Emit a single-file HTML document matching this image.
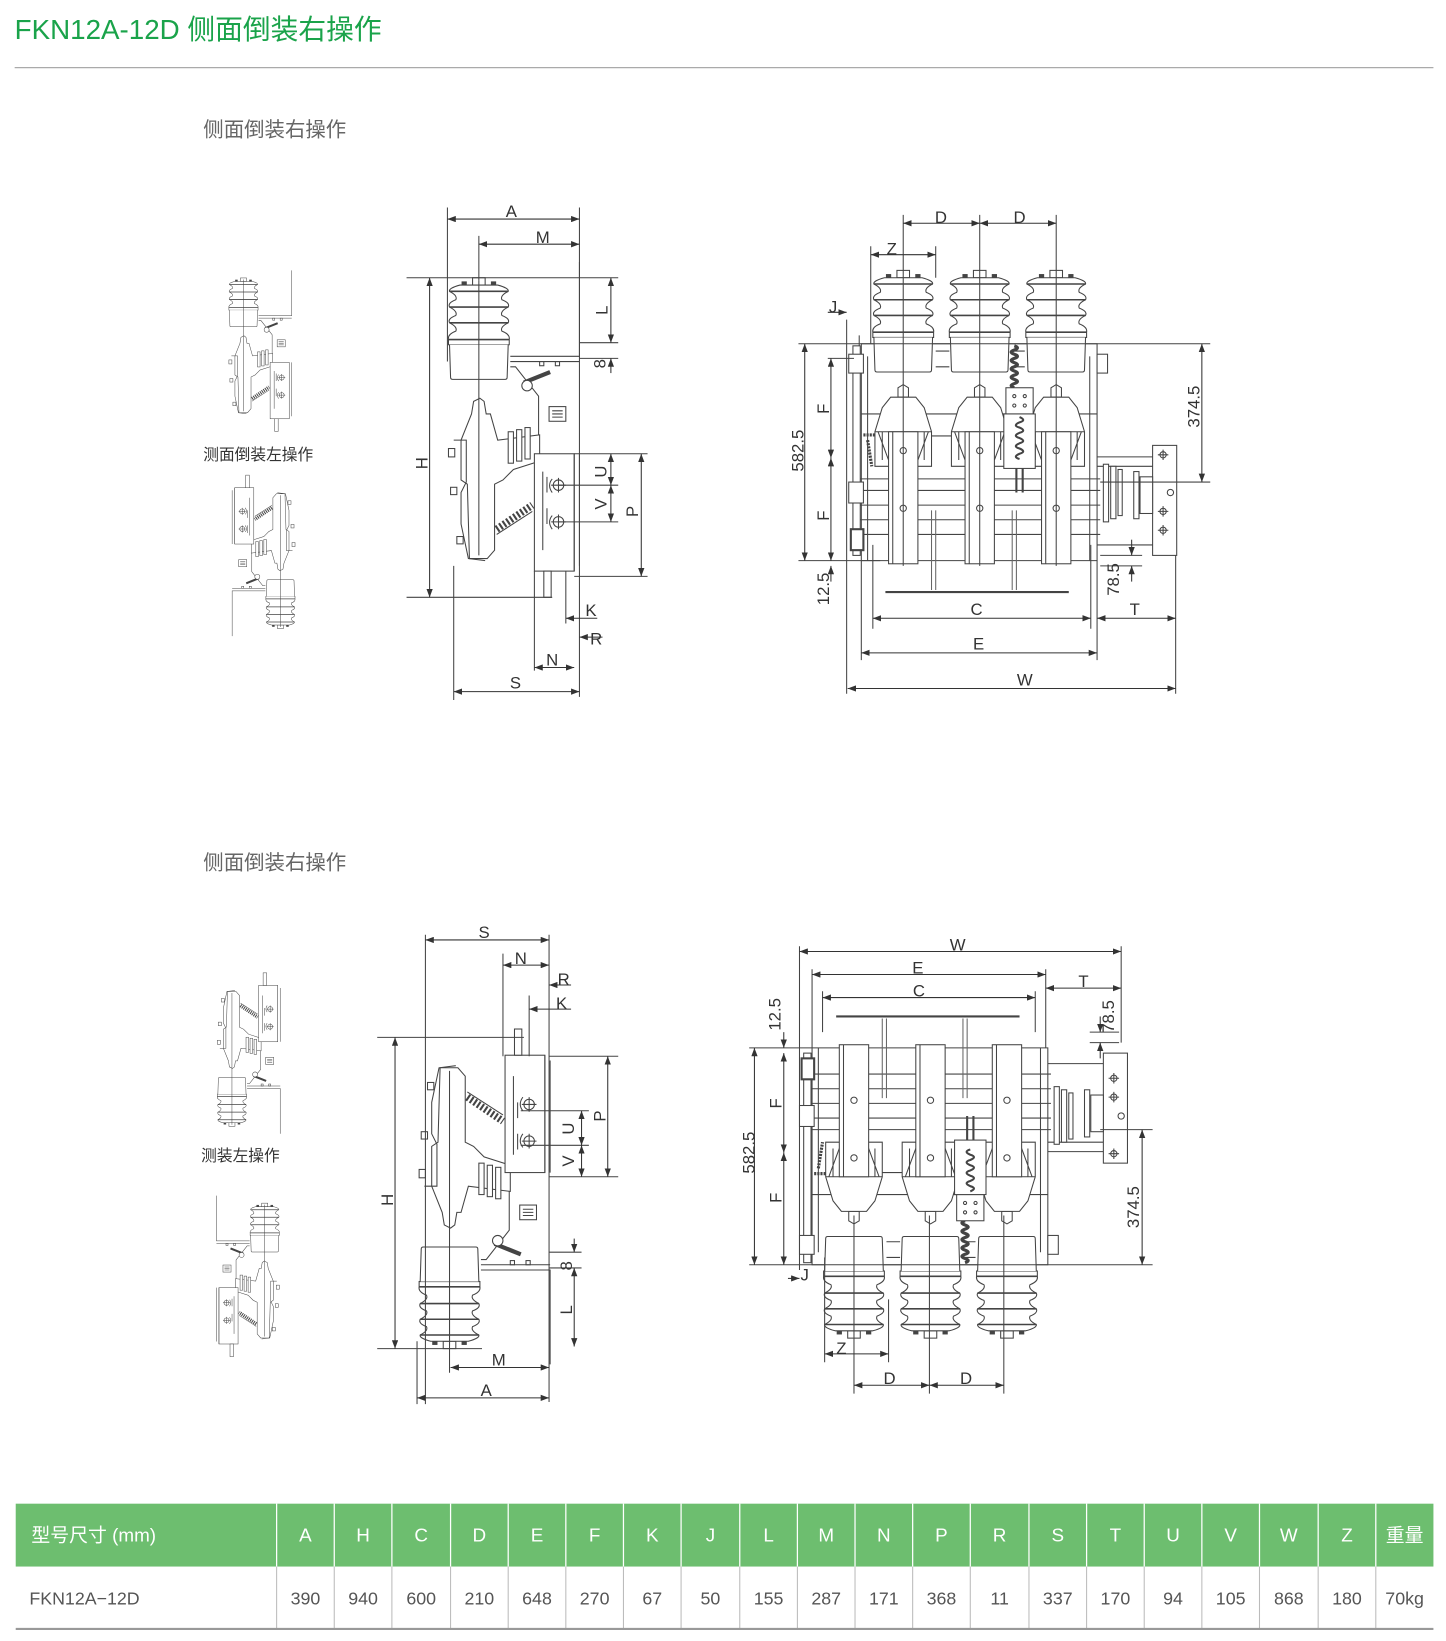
<!DOCTYPE html>
<html><head><meta charset="utf-8"><style>
html,body{margin:0;padding:0;background:#fff;}
body{width:1446px;height:1641px;overflow:hidden;}
svg{display:block}
.t{font-family:"Liberation Sans","Noto Sans CJK SC",sans-serif;}
</style></head><body>
<svg width="1446" height="1641" viewBox="0 0 1380 1566" xmlns="http://www.w3.org/2000/svg">
<defs>
<marker id="ar" viewBox="0 0 8 6" refX="8" refY="3" markerWidth="8" markerHeight="6" markerUnits="userSpaceOnUse" orient="auto-start-reverse"><path d="M0,0 L8,3 L0,6 z" fill="#333"/></marker>
<g id="ins">
<rect x="-6" y="-7" width="12" height="7" fill="#fff" stroke="#444"/>
<rect x="-16" y="-3" width="4" height="3" fill="#444"/><rect x="12" y="-3" width="4" height="3" fill="#444"/>
<path d="M-18,0 L18,0 Q29,3 28,6 Q20,10 22,14 Q30,17 28,21 Q20,25 22,29 Q30,32 28,36 Q20,40 22,44 Q30,47 29,52 L29,57 L-29,57 L-29,52 Q-30,47 -22,44 Q-20,40 -28,36 Q-30,32 -22,29 Q-20,25 -28,21 Q-30,17 -22,14 Q-20,10 -28,6 Q-29,3 -18,0 Z" fill="#fff" stroke="#444"/>
<path d="M-28,6 H28 M-28,21 H28 M-28,36 H28 M-29,52 H29" stroke="#444" stroke-width="1.5"/>
<path d="M-28,57 L-27,88 Q-27,90 -25,90 L25,90 Q27,90 27,88 L28,57" fill="#fff" stroke="#444"/>
</g>
<g id="ct" fill="#fff" stroke="#444">
<path d="M-5,12 L-5,3 L0,0 L5,3 L5,12 Z"/>
<path d="M-12,12 L12,12 L20,22 L27,45 L27,78 L-27,78 L-27,45 L-20,22 Z"/>
<path d="M-27,45 L27,45 M-24,45 L-14,72 M24,45 L14,72 M-20,45 L-20,72 M20,45 L20,72" fill="none"/>
<rect x="-14" y="45" width="28" height="126"/>
<circle cx="0" cy="63" r="3"/><circle cx="0" cy="118" r="3"/>
<line x1="-10" y1="45" x2="-10" y2="171"/>
</g>
<g id="side" fill="none" stroke="#444">
<use href="#ins" transform="translate(457,272)"/>
<path d="M487,340 H553 V250 M487,345 H553"/>
<path d="M487,350 L492,350 L514,378 L514,433"/>
<rect x="515" y="345" width="4" height="4"/><rect x="530" y="345" width="4" height="4"/>
<path d="M500,365 L525,355" stroke-width="4"/>
<circle cx="503" cy="368" r="5" fill="#fff"/>
<rect x="524" y="388" width="16" height="14" fill="#fff"/><path d="M527,392 H537 M527,395 H537 M527,398 H537"/>
<path d="M450,395 L452,383 L458,380 L462,383 L464,395 L468,395 L475,420 L515,415 L515,440 L490,448 L480,458 L472,462 L472,525 L465,533 L448,533 L446,462 L440,458 L440,420 Z" fill="#fff"/>
<rect x="485" y="412" width="5" height="30" fill="#fff"/><rect x="493" y="410" width="5" height="30" fill="#fff"/><rect x="501" y="408" width="5" height="30" fill="#fff"/>
<path d="M433,420 L445,420 L445,460 L440,470 L440,500 L447,533 L463,535"/>
<rect x="428" y="428" width="6" height="8"/><rect x="430" y="465" width="6" height="7"/><rect x="436" y="512" width="6" height="7"/>
<path d="M474,505 L508,482" stroke-width="7" stroke-dasharray="2 2"/>
<path d="M474,510 L508,488"/>
<rect x="510" y="433" width="38" height="112" fill="#fff"/>
<path d="M548,433 V545 M553,433 V540"/>
<path d="M518,450 V525 M522,455 V470 M522,485 V500"/>
<circle cx="533" cy="463" r="5"/><path d="M526,463 H540 M533,456 V470"/>
<circle cx="533" cy="498" r="5"/><path d="M526,498 H540 M533,491 V505"/>
<path d="M527,457 Q522,463 527,470 M527,492 Q522,498 527,505"/>
<rect x="519" y="545" width="7" height="25" fill="#fff"/>
<line x1="457" y1="268" x2="457" y2="530"/>
</g>
<g id="front" fill="none" stroke="#444">
<path d="M822,328 H1047 V535 H822 Z M828,340 V535 M1040,340 V535"/>
<path d="M815,457 H1050 M815,468 H1050 M815,482 H1050 M815,496 H1050 M815,510 H1050 M822,395 H1047 M840,416 H1030"/>
<path d="M893,335 H906 M965,335 H978 M893,350 H906 M965,350 H978"/>
<rect x="814" y="330" width="7" height="200" fill="#fff"/>
<rect x="810" y="338" width="14" height="18" fill="#fff"/><rect x="810" y="460" width="14" height="20" fill="#fff"/>
<rect x="812" y="505" width="12" height="20" fill="#fff" stroke-width="2"/>
<path d="M824,415 H838 M828,420 L832,445" stroke-width="3" stroke-dasharray="2 1"/>
<rect x="1047" y="338" width="10" height="18" fill="#fff"/>
<use href="#ins" transform="translate(862,265)"/>
<use href="#ins" transform="translate(935,265)"/>
<use href="#ins" transform="translate(1008,265)"/>
<use href="#ct" transform="translate(862,367)"/>
<use href="#ct" transform="translate(935,367)"/>
<use href="#ct" transform="translate(1008,367)"/>
<path d="M968,330 q6,2 0,4 q-6,2 0,4 q6,2 0,4 q-6,2 0,4 q6,2 0,4 q-6,2 0,4 q6,2 0,4 q-6,2 0,4 q6,2 0,4 q-6,2 0,4" stroke-width="3"/>
<rect x="960" y="370" width="26" height="25" fill="#fff"/>
<circle cx="968" cy="378" r="1.5"/><circle cx="978" cy="378" r="1.5"/><circle cx="968" cy="387" r="1.5"/><circle cx="978" cy="387" r="1.5"/>
<rect x="958" y="395" width="30" height="52" fill="#fff"/>
<path d="M973,398 q7,3 0,5 q-7,3 0,5 q7,3 0,5 q-7,3 0,5 q7,3 0,5 q-7,3 0,5 q7,3 0,5 q-7,3 0,5" stroke-width="2"/>
<path d="M970,447 V470 M976,447 V470" stroke-width="2"/>
<path d="M845,565 H1020" stroke-width="2"/>
<path d="M889,487 V563 M893,487 V563 M966,487 V563 M970,487 V563" stroke="#666"/>
<rect x="1100" y="425" width="23" height="105" fill="#fff"/>
<path d="M1047,436 H1100 M1047,445 H1100 M1047,520 H1100"/>
<rect x="1053" y="443" width="5" height="55" fill="#fff"/><rect x="1060" y="445" width="5" height="50" fill="#fff"/><rect x="1067" y="448" width="4" height="44" fill="#fff"/>
<rect x="1082" y="450" width="5" height="45" fill="#fff"/><rect x="1088" y="455" width="12" height="35" fill="#fff"/>
<circle cx="1110" cy="434" r="3"/><circle cx="1110" cy="488" r="3"/><circle cx="1110" cy="506" r="3"/><circle cx="1117" cy="470" r="3"/>
<path d="M1105,434 H1115 M1110,429 V439 M1105,488 H1115 M1110,483 V493 M1105,506 H1115 M1110,501 V511"/>
</g>
</defs>

<text class="t" x="14" y="37" font-size="26.5" fill="#1aa34a">FKN12A-12D 侧面倒装右操作</text>
<line x1="14" y1="64.5" x2="1368" y2="64.5" stroke="#aaa" stroke-width="1.2"/>
<text class="t" x="194" y="130" font-size="19.5" fill="#666">侧面倒装右操作</text>
<text class="t" x="194" y="830" font-size="19.5" fill="#666">侧面倒装右操作</text>
<text class="t" x="194" y="439" font-size="15" fill="#333">测面倒装左操作</text>
<text class="t" x="192" y="1108" font-size="15" fill="#333">测装左操作</text>

<use href="#side" transform="matrix(0.48 0 0 0.48 13 138)"/>
<use href="#side" transform="matrix(-0.48 0 0 -0.48 487 727)"/>
<use href="#side" transform="matrix(0.48 0 0 -0.48 2 1202)"/>
<use href="#side" transform="matrix(-0.48 0 0 0.48 472 1021)"/>

<use href="#side"/>
<use href="#side" transform="matrix(1 0 0 -1 -28 1552)"/>
<use href="#front"/>
<use href="#front" transform="matrix(1 0 0 -1 -47 1535)"/>

<g stroke="#444" stroke-width="1" fill="none">
<path d="M427,198 V345 M553,198 V665 M457,225 V268 M388,265 H590 M388,570 H527 M553,327 H590 M553,342 H590 M548,433 H618 M533,463 H590 M533,498 H590 M548,550 H618 M540,545 V595 M510,545 V640 M433,540 V668"/>
</g>
<g stroke="#333" stroke-width="1" marker-start="url(#ar)" marker-end="url(#ar)">
<line x1="427" y1="209" x2="553" y2="209"/>
<line x1="457" y1="233" x2="553" y2="233"/>
<line x1="410" y1="265" x2="410" y2="570"/>
<line x1="583" y1="265" x2="583" y2="327"/>
<line x1="583" y1="433" x2="583" y2="463"/>
<line x1="583" y1="463" x2="583" y2="498"/>
<line x1="612" y1="433" x2="612" y2="550"/>
<line x1="510" y1="637" x2="548" y2="637"/>
<line x1="433" y1="660" x2="553" y2="660"/>
</g>
<g stroke="#333" marker-end="url(#ar)">
<line x1="583" y1="356" x2="583" y2="342"/>
<line x1="570" y1="590" x2="540" y2="590"/>
<line x1="575" y1="608" x2="553" y2="608"/>
</g>
<g class="t" font-size="16" fill="#333" text-anchor="middle">
<text x="488" y="207">A</text><text x="518" y="232">M</text>
<text x="403" y="442" transform="rotate(-90 403 442)" dy="5">H</text>
<text x="575" y="296" transform="rotate(-90 575 296)" dy="5">L</text>
<text x="573" y="347" transform="rotate(-90 573 347)" dy="5">8</text>
<text x="574" y="450" transform="rotate(-90 574 450)" dy="5">U</text>
<text x="574" y="481" transform="rotate(-90 574 481)" dy="5">V</text>
<text x="604" y="488" transform="rotate(-90 604 488)" dy="5">P</text>
<text x="564" y="588">K</text><text x="569" y="615">R</text>
<text x="527" y="635">N</text><text x="492" y="657">S</text>
</g>

<g stroke="#444" fill="none">
<path d="M862,205 V540 M935,205 V540 M1008,205 V540 M831,235 V328 M893,235 V265 M808,305 V662 M820,320 V330 M762,328 H1155 M762,535 H840 M790,342 H815 M1050,460 H1155 M1050,530 H1090 M1050,540 H1090 M833,520 V600 M1041,520 V600 M822,535 V630 M1047,535 V630 M1122,530 V662"/>
</g>
<g stroke="#333" marker-start="url(#ar)" marker-end="url(#ar)">
<line x1="862" y1="213" x2="935" y2="213"/>
<line x1="935" y1="213" x2="1008" y2="213"/>
<line x1="831" y1="243" x2="893" y2="243"/>
<line x1="768" y1="328" x2="768" y2="535"/>
<line x1="793" y1="342" x2="793" y2="437"/>
<line x1="793" y1="437" x2="793" y2="535"/>
<line x1="1147" y1="328" x2="1147" y2="460"/>
<line x1="833" y1="590" x2="1041" y2="590"/>
<line x1="1047" y1="590" x2="1122" y2="590"/>
<line x1="822" y1="623" x2="1047" y2="623"/>
<line x1="809" y1="657" x2="1122" y2="657"/>
</g>
<g stroke="#333" marker-end="url(#ar)">
<line x1="790" y1="298" x2="808" y2="298"/>
<line x1="793" y1="555" x2="793" y2="540"/>
<line x1="1080" y1="515" x2="1080" y2="530"/>
<line x1="1080" y1="555" x2="1080" y2="540"/>
</g>
<g class="t" font-size="16" fill="#333" text-anchor="middle">
<text x="898" y="213">D</text><text x="973" y="213">D</text><text x="851" y="243">Z</text>
<text x="795" y="298">J</text>
<text x="762" y="430" transform="rotate(-90 762 430)" dy="5">582.5</text>
<text x="786" y="390" transform="rotate(-90 786 390)" dy="5">F</text>
<text x="786" y="492" transform="rotate(-90 786 492)" dy="5">F</text>
<text x="786" y="562" transform="rotate(-90 786 562)" dy="5">12.5</text>
<text x="1140" y="388" transform="rotate(-90 1140 388)" dy="5">374.5</text>
<text x="1063" y="553" transform="rotate(-90 1063 553)" dy="5">78.5</text>
<text x="932" y="587">C</text><text x="1083" y="587">T</text>
<text x="934" y="620">E</text><text x="978" y="654">W</text>
</g>

<g stroke="#444" fill="none">
<path d="M406,892 V1340 M524,892 V1338 M480,910 V1008 M505,950 V1008 M360,990 H500 M360,1287 H460 M524,1008 H590 M524,1123 H590 M497,1060 H562 M497,1093 H562 M524,1195 H555 M524,1210 H555 M429,1230 V1310 M398,1280 V1340"/>
</g>
<g stroke="#333" marker-start="url(#ar)" marker-end="url(#ar)">
<line x1="406" y1="897" x2="524" y2="897"/>
<line x1="480" y1="921" x2="524" y2="921"/>
<line x1="377" y1="990" x2="377" y2="1287"/>
<line x1="580" y1="1008" x2="580" y2="1123"/>
<line x1="555" y1="1060" x2="555" y2="1093"/>
<line x1="555" y1="1093" x2="555" y2="1123"/>
<line x1="548" y1="1210" x2="548" y2="1285"/>
<line x1="430" y1="1305" x2="524" y2="1305"/>
<line x1="398" y1="1334" x2="524" y2="1334"/>
</g>
<g stroke="#333" marker-end="url(#ar)">
<line x1="545" y1="940" x2="524" y2="940"/>
<line x1="545" y1="963" x2="505" y2="963"/>
<line x1="548" y1="1182" x2="548" y2="1195"/>
</g>
<g class="t" font-size="16" fill="#333" text-anchor="middle">
<text x="462" y="895">S</text><text x="497" y="920">N</text>
<text x="538" y="940">R</text><text x="536" y="963">K</text>
<text x="370" y="1145" transform="rotate(-90 370 1145)" dy="5">H</text>
<text x="573" y="1065" transform="rotate(-90 573 1065)" dy="5">P</text>
<text x="543" y="1077" transform="rotate(-90 543 1077)" dy="5">U</text>
<text x="543" y="1108" transform="rotate(-90 543 1108)" dy="5">V</text>
<text x="541" y="1208" transform="rotate(-90 541 1208)" dy="5">8</text>
<text x="541" y="1250" transform="rotate(-90 541 1250)" dy="5">L</text>
<text x="476" y="1303">M</text><text x="464" y="1332">A</text>
</g>

<g stroke="#444" fill="none">
<path d="M763,903 V1212 M1070,903 V995 M775,925 V1000 M998,925 V1000 M785,946 V985 M988,946 V985 M715,1000 H775 M715,1207 H1100 M1050,1078 H1100 M815,1160 V1330 M887,1160 V1330 M958,1160 V1330 M787,1200 V1300 M848,1240 V1300 M1040,985 H1068 M1040,995 H1068"/>
</g>
<g stroke="#333" marker-start="url(#ar)" marker-end="url(#ar)">
<line x1="763" y1="908" x2="1070" y2="908"/>
<line x1="775" y1="930" x2="998" y2="930"/>
<line x1="785" y1="952" x2="988" y2="952"/>
<line x1="998" y1="943" x2="1070" y2="943"/>
<line x1="720" y1="1000" x2="720" y2="1207"/>
<line x1="748" y1="1005" x2="748" y2="1100"/>
<line x1="748" y1="1100" x2="748" y2="1207"/>
<line x1="1090" y1="1078" x2="1090" y2="1207"/>
<line x1="787" y1="1292" x2="848" y2="1292"/>
<line x1="815" y1="1322" x2="887" y2="1322"/>
<line x1="887" y1="1322" x2="958" y2="1322"/>
</g>
<g stroke="#333" marker-end="url(#ar)">
<line x1="748" y1="985" x2="748" y2="1000"/>
<line x1="1050" y1="970" x2="1050" y2="985"/>
<line x1="1050" y1="1010" x2="1050" y2="995"/>
<line x1="752" y1="1220" x2="763" y2="1220"/>
</g>
<g class="t" font-size="16" fill="#333" text-anchor="middle">
<text x="914" y="907">W</text><text x="876" y="929">E</text><text x="877" y="951">C</text><text x="1034" y="942">T</text>
<text x="740" y="968" transform="rotate(-90 740 968)" dy="5">12.5</text>
<text x="1058" y="970" transform="rotate(-90 1058 970)" dy="5">78.5</text>
<text x="715" y="1100" transform="rotate(-90 715 1100)" dy="5">582.5</text>
<text x="741" y="1053" transform="rotate(-90 741 1053)" dy="5">F</text>
<text x="741" y="1143" transform="rotate(-90 741 1143)" dy="5">F</text>
<text x="1082" y="1152" transform="rotate(-90 1082 1152)" dy="5">374.5</text>
<text x="768" y="1222">J</text>
<text x="803" y="1292">Z</text><text x="849" y="1321">D</text><text x="922" y="1321">D</text>
</g>

<rect x="15" y="1435" width="1353" height="60" fill="#6dbe6f"/>
<g stroke="#fff" stroke-width="1.2">
<path d="M264,1435 V1495 M319,1435 V1495 M374,1435 V1495 M430,1435 V1495 M485,1435 V1495 M540,1435 V1495 M595,1435 V1495 M650,1435 V1495 M706,1435 V1495 M761,1435 V1495 M816,1435 V1495 M871,1435 V1495 M926,1435 V1495 M982,1435 V1495 M1037,1435 V1495 M1092,1435 V1495 M1147,1435 V1495 M1202,1435 V1495 M1258,1435 V1495 M1313,1435 V1495"/>
</g>
<g stroke="#bbb" stroke-width="1">
<path d="M264,1495 V1554 M319,1495 V1554 M374,1495 V1554 M430,1495 V1554 M485,1495 V1554 M540,1495 V1554 M595,1495 V1554 M650,1495 V1554 M706,1495 V1554 M761,1495 V1554 M816,1495 V1554 M871,1495 V1554 M926,1495 V1554 M982,1495 V1554 M1037,1495 V1554 M1092,1495 V1554 M1147,1495 V1554 M1202,1495 V1554 M1258,1495 V1554 M1313,1495 V1554"/>
</g>
<line x1="15" y1="1554.5" x2="1368" y2="1554.5" stroke="#999" stroke-width="2"/>
<g class="t" font-size="18" fill="#fff" text-anchor="middle">
<text x="30" y="1471" text-anchor="start">型号尺寸 (mm)</text>
<text x="291.5" y="1471">A</text><text x="346.5" y="1471">H</text><text x="402" y="1471">C</text><text x="457.5" y="1471">D</text><text x="512.5" y="1471">E</text><text x="567.5" y="1471">F</text><text x="622.5" y="1471">K</text><text x="678" y="1471">J</text><text x="733.5" y="1471">L</text><text x="788.5" y="1471">M</text><text x="843.5" y="1471">N</text><text x="898.5" y="1471">P</text><text x="954" y="1471">R</text><text x="1009.5" y="1471">S</text><text x="1064.5" y="1471">T</text><text x="1119.5" y="1471">U</text><text x="1174.5" y="1471">V</text><text x="1230" y="1471">W</text><text x="1285.5" y="1471">Z</text><text x="1340.5" y="1471">重量</text>
</g>
<g class="t" font-size="17" fill="#555" text-anchor="middle">
<text x="28" y="1531" text-anchor="start">FKN12A−12D</text>
<text x="291.5" y="1531">390</text><text x="346.5" y="1531">940</text><text x="402" y="1531">600</text><text x="457.5" y="1531">210</text><text x="512.5" y="1531">648</text><text x="567.5" y="1531">270</text><text x="622.5" y="1531">67</text><text x="678" y="1531">50</text><text x="733.5" y="1531">155</text><text x="788.5" y="1531">287</text><text x="843.5" y="1531">171</text><text x="898.5" y="1531">368</text><text x="954" y="1531">11</text><text x="1009.5" y="1531">337</text><text x="1064.5" y="1531">170</text><text x="1119.5" y="1531">94</text><text x="1174.5" y="1531">105</text><text x="1230" y="1531">868</text><text x="1285.5" y="1531">180</text><text x="1340.5" y="1531">70kg</text>
</g>
</svg>
</body></html>
